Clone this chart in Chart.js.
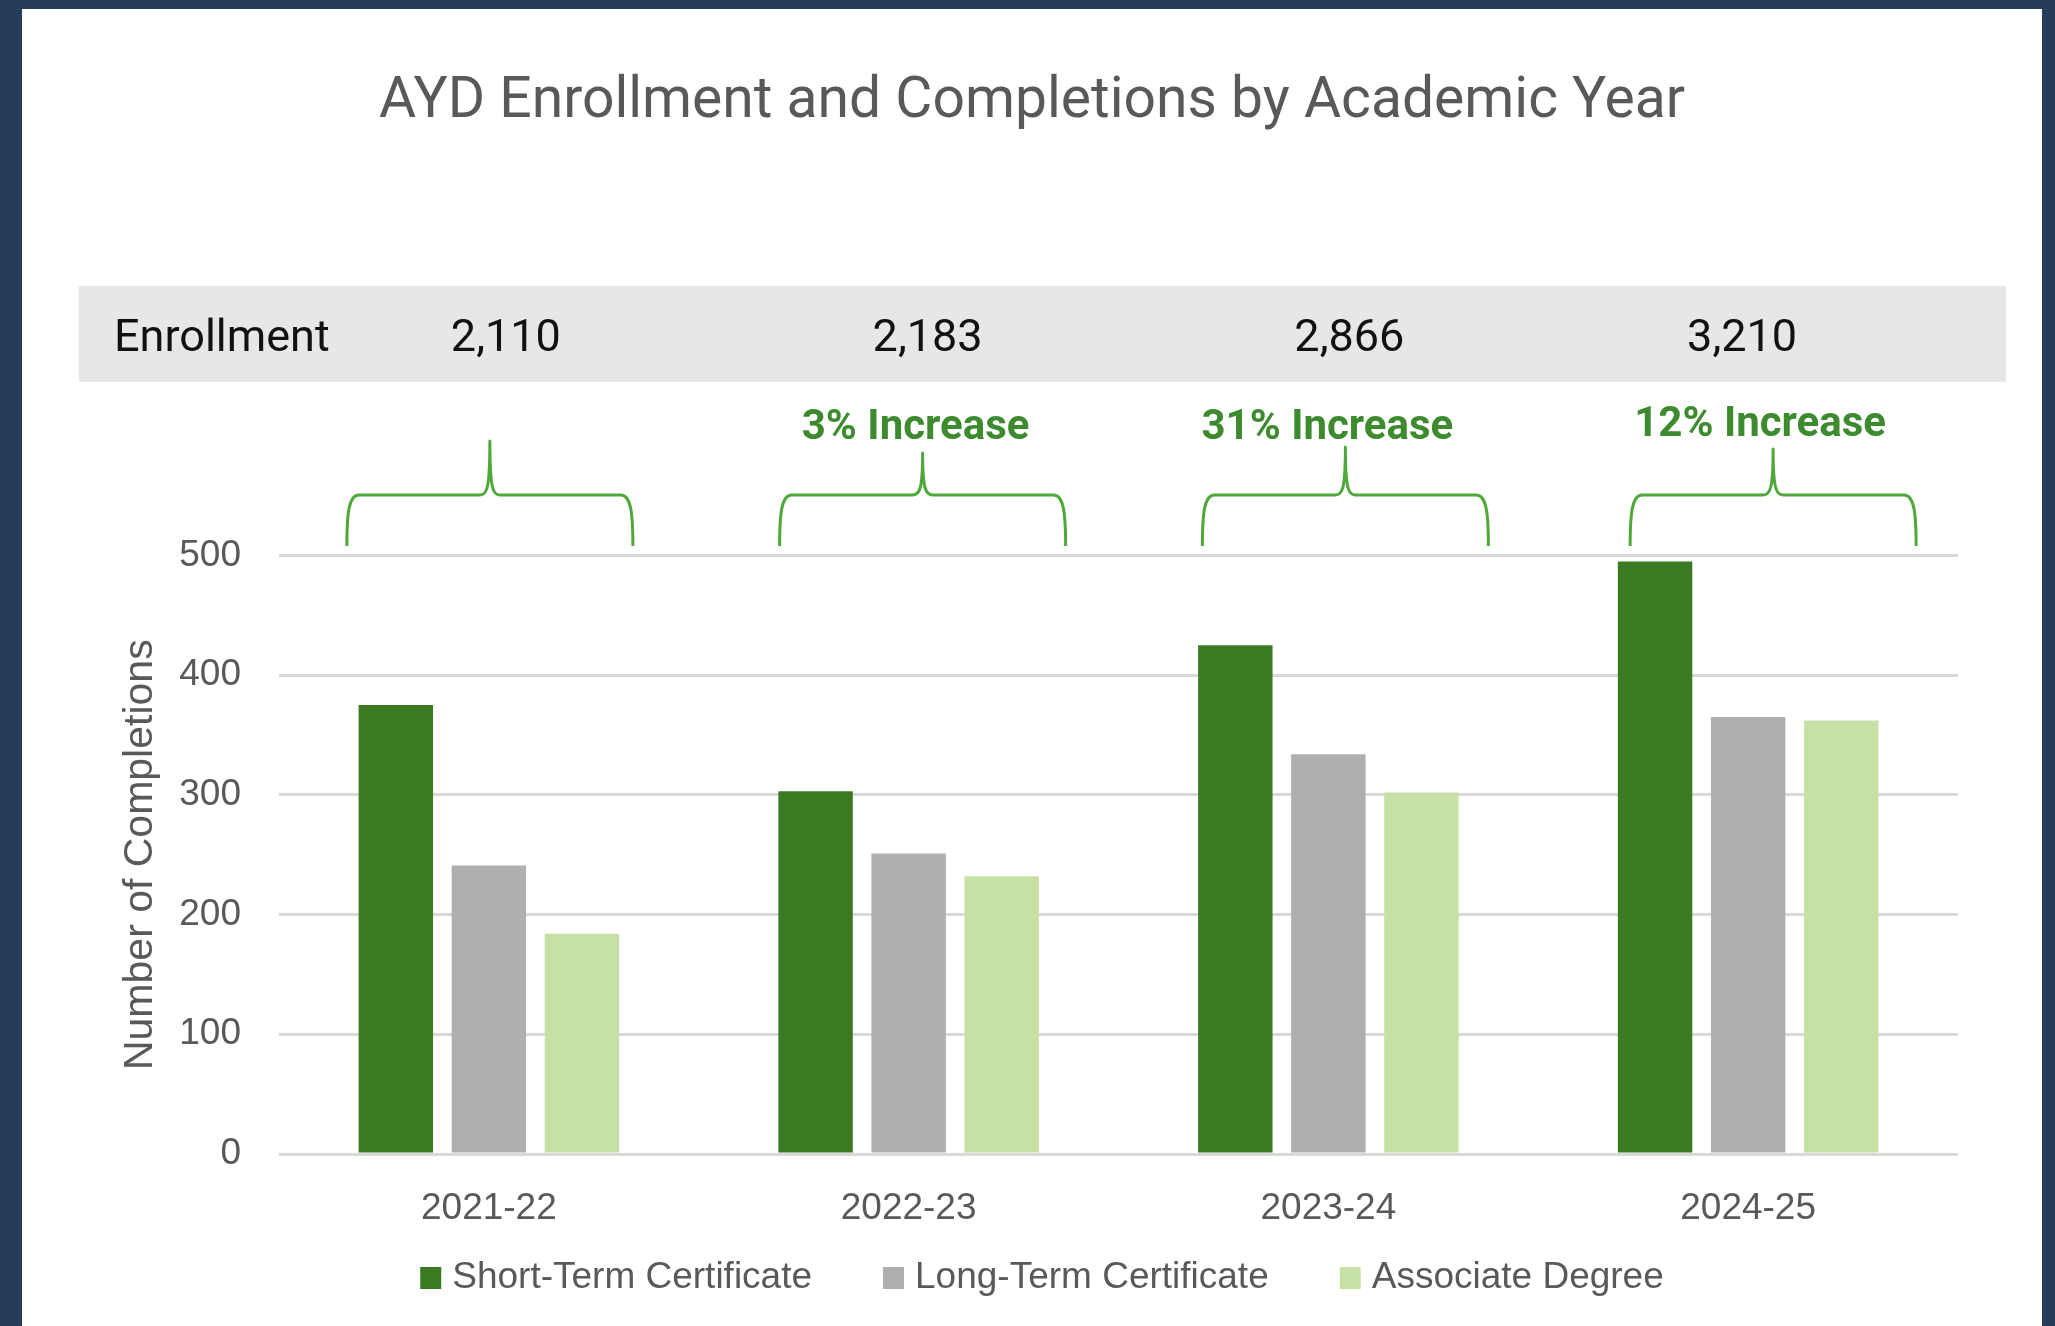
<!DOCTYPE html>
<html>
<head>
<meta charset="utf-8">
<title>AYD Enrollment and Completions</title>
<script src="https://cdn.jsdelivr.net/npm/chart.js@4.4.1/dist/chart.umd.min.js"></script>
<style>
  html, body { margin: 0; padding: 0; background: #263a5a; overflow: hidden; }
  #panel { position: absolute; left: 22px; top: 9px; width: 2020px; height: 1317px; background: #fff; }
  canvas { display: block; }
</style>
</head>
<body>
<div id="panel"><canvas id="chart" width="2020" height="1317"></canvas></div>
<script>
  // data
  const years = ['2021-22', '2022-23', '2023-24', '2024-25'];
  const shortTerm = [375, 303, 425, 495];
  const longTerm = [241, 251, 334, 365];
  const associate = [184, 232, 302, 362];
  const enrollment = [2110, 2183, 2866, 3210];
  const increaseLabels = ['', '3% Increase', '31% Increase', '12% Increase'];
  const yTicks = [0, 100, 200, 300, 400, 500];

  const axisFont = '"Liberation Sans", Arial, sans-serif';
  const headFont = 'Roboto, "Liberation Sans", sans-serif';

  // enrollment band, braces, increase labels and legend
  const overlay = {
    id: 'overlay',
    afterDraw(chart) {
      const { ctx } = chart;
      const x = chart.scales.x;
      ctx.save();

      ctx.fillStyle = '#e7e7e7';
      ctx.fillRect(57, 277, 1927, 96);
      ctx.fillStyle = '#111111';
      ctx.font = '45px ' + headFont;
      ctx.textBaseline = 'middle';
      ctx.textAlign = 'left';
      ctx.fillText('Enrollment', 92, 331);
      ctx.textAlign = 'center';
      const numShift = [17, 19, 21, -6];
      enrollment.forEach((v, i) => {
        ctx.fillText(v.toLocaleString('en-US'), x.getPixelForValue(i) + numShift[i], 331);
      });

      // increase labels
      ctx.fillStyle = '#3d8b2e';
      ctx.font = 'bold 42px ' + headFont;
      const labShift = [0, 7, -1, 12];
      increaseLabels.forEach((t, i) => {
        if (t) ctx.fillText(t, x.getPixelForValue(i) + labShift[i], i === 3 ? 416 : 419);
      });

      // curly braces above each group
      const braceShift = [1, 14, 17, 25];
      const tipY = [432, 444, 438, 440];
      const barY = 486, botY = 537, half = 143;
      ctx.strokeStyle = '#4fa83a';
      ctx.lineWidth = 3;
      ctx.lineJoin = 'round';
      years.forEach((_, i) => {
        const c = x.getPixelForValue(i) + braceShift[i];
        const L = c - half, R = c + half, t = tipY[i];
        ctx.beginPath();
        ctx.moveTo(L, botY);
        ctx.bezierCurveTo(L, barY + 18, L + 2, barY, L + 12, barY);
        ctx.lineTo(c - 10, barY);
        ctx.bezierCurveTo(c - 3, barY, c, barY - 6, c, t);
        ctx.bezierCurveTo(c, barY - 6, c + 3, barY, c + 10, barY);
        ctx.lineTo(R - 12, barY);
        ctx.bezierCurveTo(R - 2, barY, R, barY + 18, R, botY);
        ctx.stroke();
      });

      // legend
      ctx.font = '37px ' + axisFont;
      ctx.textAlign = 'left';
      const box = 21, gap = 11, spacing = 71;
      const items = chart.data.datasets.map(d => ({
        label: d.label, color: d.backgroundColor, w: ctx.measureText(d.label).width
      }));
      const total = items.reduce((s, it) => s + box + gap + it.w, 0) + spacing * (items.length - 1);
      let lx = chart.width / 2 + 10 - total / 2;
      const ly = 1269;
      items.forEach(it => {
        ctx.fillStyle = it.color;
        ctx.fillRect(lx, ly - 11, box, 22);
        ctx.fillStyle = '#595959';
        ctx.fillText(it.label, lx + box + gap, ly);
        lx += box + gap + it.w + spacing;
      });

      ctx.restore();
    }
  };

  new Chart(document.getElementById('chart'), {
    type: 'bar',
    data: {
      labels: years,
      datasets: [
        { label: 'Short-Term Certificate', data: shortTerm, backgroundColor: '#3b7a23' },
        { label: 'Long-Term Certificate', data: longTerm, backgroundColor: '#afafaf' },
        { label: 'Associate Degree', data: associate, backgroundColor: '#c6e0a6' }
      ]
    },
    options: {
      responsive: false,
      devicePixelRatio: 1,
      animation: false,
      categoryPercentage: 0.665,
      barPercentage: 0.8,
      layout: { padding: { left: 0, right: 0, top: 0, bottom: 0 } },
      plugins: {
        legend: { display: false },
        tooltip: { enabled: false },
        title: {
          display: true,
          text: 'AYD Enrollment and Completions by Academic Year',
          color: '#595959',
          font: { family: headFont, size: 57, weight: 'normal' },
          padding: { top: 60, bottom: 418 }
        }
      },
      scales: {
        x: {
          grid: { display: false, drawTicks: false },
          border: { display: false },
          ticks: { color: '#595959', font: { family: axisFont, size: 37 }, padding: 33 },
          afterFit(scale) { scale.height = 172; }
        },
        y: {
          min: 0,
          max: 500,
          afterBuildTicks(scale) { scale.ticks = yTicks.map(v => ({ value: v })); },
          grid: { color: '#d9d9d9', lineWidth: 3, drawTicks: false },
          border: { display: false },
          ticks: { color: '#595959', font: { family: axisFont, size: 37 }, padding: 38 },
          title: {
            display: true,
            text: 'Number of Completions',
            color: '#595959',
            font: { family: axisFont, size: 41 },
            padding: { top: 94, bottom: 0 }
          },
          afterFit(scale) { scale.width = 257; }
        },
        yRight: {
          position: 'right',
          min: 0,
          max: 500,
          grid: { display: false, drawTicks: false },
          border: { display: false },
          ticks: { display: false },
          afterFit(scale) { scale.width = 84; }
        }
      }
    },
    plugins: [overlay]
  });
</script>
</body>
</html>
